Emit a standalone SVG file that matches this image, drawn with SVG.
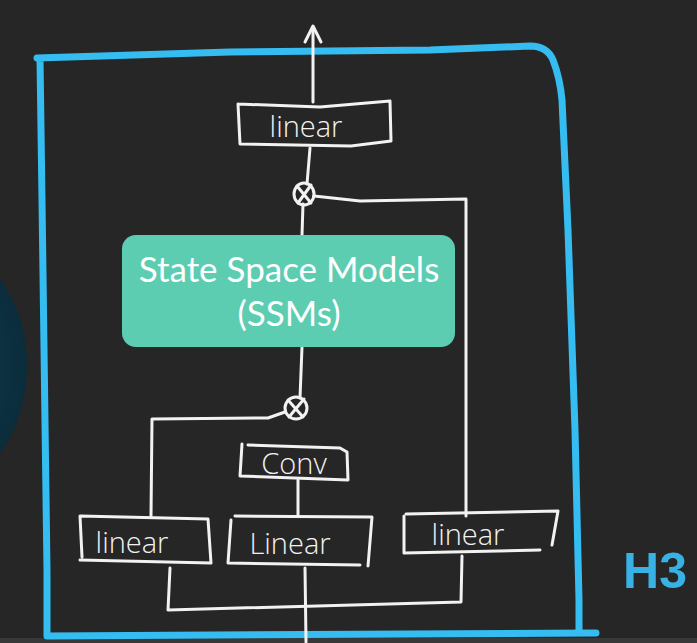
<svg xmlns="http://www.w3.org/2000/svg" width="697" height="643" viewBox="0 0 697 643">
<defs>
<style>
.w{fill:none;stroke:#f2f2f2;stroke-width:3;stroke-linecap:round;stroke-linejoin:round}
.frame{fill:none;stroke:#35bdf2;stroke-width:7;stroke-linecap:round;stroke-linejoin:round}
.hand{font-family:"Open Sans","DejaVu Sans",sans-serif;fill:#f2f2f2;font-size:29px;font-weight:300}
.ssm{font-family:Lato,"Open Sans",sans-serif;fill:#ffffff;font-size:35px}
</style>
<radialGradient id="blob" cx="0.5" cy="0.5" r="0.5">
<stop offset="0" stop-color="#0f3f54"/>
<stop offset="1" stop-color="#0b2c3b"/>
</radialGradient>
</defs>
<rect width="697" height="643" fill="#262626"/>
<ellipse cx="-60" cy="366" rx="87" ry="120" fill="url(#blob)"/>
<rect x="0" y="638" width="697" height="5" fill="#383838"/>
<g id="frame">
<path class="frame" d="M37 58 L230 52 L430 50 L530 46 Q547 46 553 60 Q560 78 562 100 L568 230 L575 430 L579 600 L579 632 M40 58 L42 200 L47 570 L47 636 L596 633"/>
</g>
<g id="connectors">
<path class="w" d="M313 102 L313 27"/>
<path class="w" d="M305 42 L313 26 L321 42"/>
<path class="w" d="M310 148 L307 184"/>
<path class="w" d="M314 196 L360 201 L466 199 L466 516"/>
<path class="w" d="M303 204 L302 235"/>
<path class="w" d="M302 347 L300 398"/>
<path class="w" d="M285 412 L268 418 L152 419 L151 516"/>
<path class="w" d="M298 480 L298 515"/>
<path class="w" d="M170 568 L168 610 L461 602 L462 556"/>
<path class="w" d="M305 568 L306 642"/>
</g>
<g id="mul-top">
<ellipse class="w" cx="304" cy="194" rx="10" ry="11"/>
<path class="w" d="M297 186 L311 203 M311 185 L298 203"/>
</g>
<g id="mul-bottom">
<ellipse class="w" cx="296" cy="408" rx="11" ry="11"/>
<path class="w" d="M288 400 L303 417 M304 399 L289 417"/>
</g>
<g id="linear-top">
<path class="w" d="M238 104 L320 107 L390 101 L391 141 L351 146 L240 144 L238 104"/>
<text class="hand" x="306" y="137" text-anchor="middle">linear</text>
</g>
<g id="ssm">
<rect x="122" y="235" width="333" height="112" rx="14" fill="#5dcdb2"/>
<text class="ssm" x="289" y="282" text-anchor="middle">State Space Models</text>
<text class="ssm" x="289" y="326" text-anchor="middle">(SSMs)</text>
</g>
<g id="conv">
<path class="w" d="M248 445 L340 448 L347 452 L348 480 L240 476 L242 444"/>
<text class="hand" x="294" y="474" text-anchor="middle">Conv</text>
</g>
<g id="linear-1">
<path class="w" d="M82 557 L80 516 L208 519 L211 563 L80 560"/>
<text class="hand" x="132" y="553" text-anchor="middle">linear</text>
</g>
<g id="linear-2">
<path class="w" d="M231 520 L228 563 L360 565 M235 516 L372 517 L368 566"/>
<text class="hand" x="290" y="554" text-anchor="middle">Linear</text>
</g>
<g id="linear-3">
<path class="w" d="M404 516 L404 553 L540 550 M406 514 L558 511 L552 545"/>
<text class="hand" x="468" y="545" text-anchor="middle">linear</text>
</g>
<g id="label-h3">
<text x="655" y="588" text-anchor="middle" font-family="Liberation Sans, DejaVu Sans, sans-serif" font-size="50" font-weight="bold" fill="#38b2e4">H3</text>
</g>
</svg>
